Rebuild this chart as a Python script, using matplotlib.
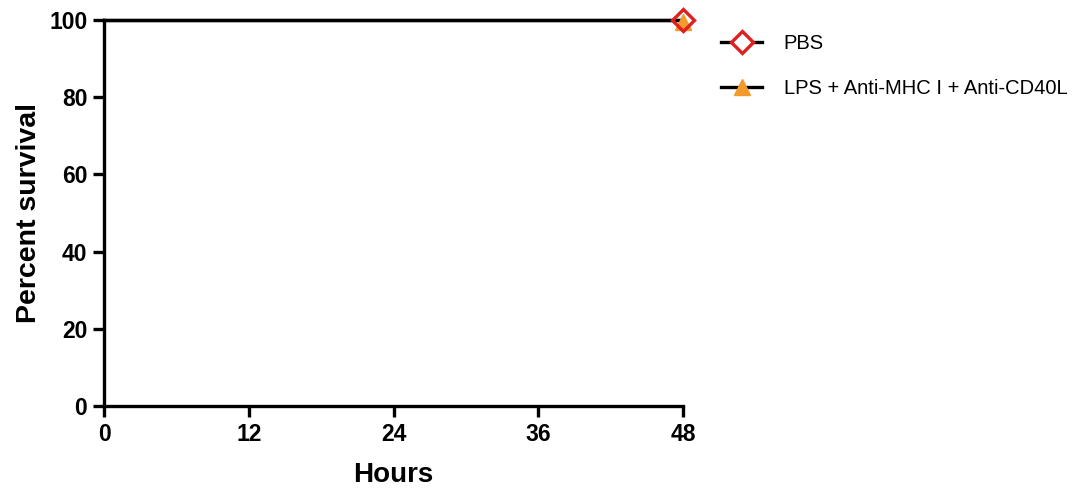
import matplotlib
matplotlib.use('Agg')
import matplotlib.pyplot as plt

# survival data (Kaplan-Meier style)
hours = [0, 48]
pbs_survival = [100, 100]
lps_survival = [100, 100]
series_labels = ['PBS', 'LPS + Anti-MHC I + Anti-CD40L']
x_ticks = [0, 12, 24, 36, 48]
y_ticks = [0, 20, 40, 60, 80, 100]

plt.rcParams['font.family'] = ['Liberation Sans', 'DejaVu Sans']

fig = plt.figure(figsize=(10.77, 4.9), dpi=100)
ax = fig.add_axes([0.0966, 0.1714, 0.5376, 0.7876])

ax.step(hours, pbs_survival, where='post', color='black', lw=2.4, clip_on=False, zorder=3)
ax.step(hours, lps_survival, where='post', color='black', lw=2.4, clip_on=False, zorder=3)
ax.plot(hours[-1:], [lps_survival[-1] - 0.6], marker='^', ms=11, color='#f39a2d', ls='none',
        clip_on=False, zorder=5)
ax.plot(hours[-1:], pbs_survival[-1:], marker='D', ms=11, mfc='none', mec='#e02020', mew=2.4,
        ls='none', clip_on=False, zorder=6)

# legend handles
h1, = ax.plot([], [], color='black', lw=2.4, marker='D', ms=11, mfc='white', mec='#e02020', mew=2.4)
h2, = ax.plot([], [], color='black', lw=2.4, marker='^', ms=11, mfc='#f39a2d', mec='#f39a2d')
fig.legend([h1, h2], series_labels, loc='upper left', bbox_to_anchor=(0.653, 0.967),
           frameon=False, fontsize=14.5, handlelength=2.0, labelspacing=1.3, handletextpad=1.1)

ax.set_xlim(0, 48)
ax.set_ylim(0, 100)
ax.set_xticks(x_ticks)
ax.set_yticks(y_ticks)
for s in ['top', 'right']:
    ax.spines[s].set_visible(False)
for s in ['left', 'bottom']:
    ax.spines[s].set_linewidth(2.4)
ax.tick_params(width=2.4, length=8, labelsize=16.5, pad=4)
for lab in ax.get_xticklabels() + ax.get_yticklabels():
    lab.set_fontweight('bold')

ax.set_xlabel('Hours', fontsize=20, fontweight='bold', labelpad=12)
ax.set_ylabel('Percent survival', fontsize=20.5, fontweight='bold', labelpad=5)

fig.savefig('out.png', dpi=100)
